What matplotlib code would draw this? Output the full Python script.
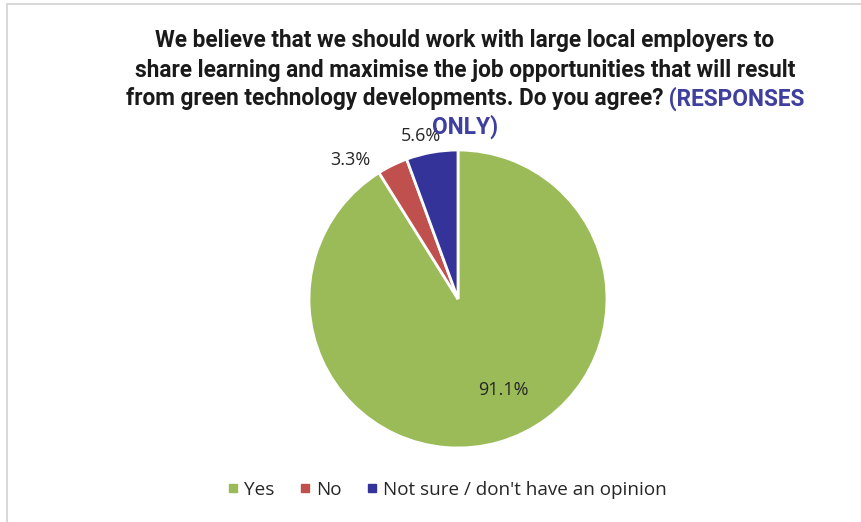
import matplotlib
matplotlib.use("Agg")
import matplotlib.pyplot as plt
import numpy as np
from matplotlib.lines import Line2D
from matplotlib.patches import Rectangle

# survey answers
labels = ["Yes", "No", "Not sure / don't have an opinion"]
shares = [91.1, 3.3, 5.6]
colors = ["#9BBB59", "#C0504D", "#333399"]

title_lines = [
    "We believe that we should work with large local employers to",
    "share learning and maximise the job opportunities that will result",
    "from green technology developments. Do you agree?",
]
title_tail = " (RESPONSES"
title_last = "ONLY)"

W, H = 862, 522
fig = plt.figure(figsize=(W / 100, H / 100), dpi=100)

# light grey chart frame
fig.add_artist(Rectangle((7 / W, -0.1), 1.2, 1 - 4 / H + 0.1, transform=fig.transFigure,
                         fill=False, edgecolor="#D9D9D9", linewidth=1.5))

# pie: centre (458, 299), radius 149 px
cx, cy, r = 458, 299, 149
ax = fig.add_axes([(cx - r) / W, (H - cy - r) / H, 2 * r / W, 2 * r / H])
wedges, _ = ax.pie(shares, colors=colors, startangle=90, counterclock=False,
                   wedgeprops=dict(edgecolor="white", linewidth=2))
ax.set_xlim(-1, 1)
ax.set_ylim(-1, 1)
ax.set_aspect("equal")
ax.axis("off")

body = ["Open Sans", "DejaVu Sans"]

# data labels, polar placement (angle in degrees, radius)
label_pos = [(-63.6, 0.68), (127.7, 1.18), (102.9, 1.12)]
for val, (ang, rad) in zip(shares, label_pos):
    a = np.deg2rad(ang)
    ax.text(rad * np.cos(a), rad * np.sin(a), f"{val:.1f}%", ha="center", va="center",
            fontsize=13, color="#262626", family=body, clip_on=False)

# title, centred, last part in blue
tfont = dict(family=["Roboto", "DejaVu Sans"], fontweight="bold", fontsize=16.3)
tx = 465 / W
ys = [40, 70, 99]
for line, y in zip(title_lines[:2], ys[:2]):
    fig.text(tx, 1 - y / H, line, ha="center", va="center", color="#1a1a1a", **tfont)

fig.canvas.draw()
rend = fig.canvas.get_renderer()
t_a = fig.text(0, 1 - ys[2] / H, title_lines[2], ha="left", va="center", color="#1a1a1a", **tfont)
t_b = fig.text(0, 1 - ys[2] / H, title_tail, ha="left", va="center", color="#3F3F9F", **tfont)
wa = t_a.get_window_extent(rend).width
wb = t_b.get_window_extent(rend).width
x0 = tx * W - (wa + wb) / 2
t_a.set_x(x0 / W)
t_b.set_x((x0 + wa) / W)
fig.text(tx, 1 - 127 / H, title_last, ha="center", va="center", color="#3F3F9F", **tfont)

# legend
handles = [Line2D([], [], marker="s", linestyle="none", markersize=6,
                  markerfacecolor=c, markeredgecolor=c) for c in colors]
fig.legend(handles, labels, loc="center", bbox_to_anchor=(445 / W, 1 - 490 / H), ncol=3,
           frameon=False, handletextpad=0.1, columnspacing=1.1, handlelength=1.0,
           prop=dict(family=body, size=13.6), labelcolor="#262626")

fig.savefig("out.png", dpi=100, facecolor="white")
